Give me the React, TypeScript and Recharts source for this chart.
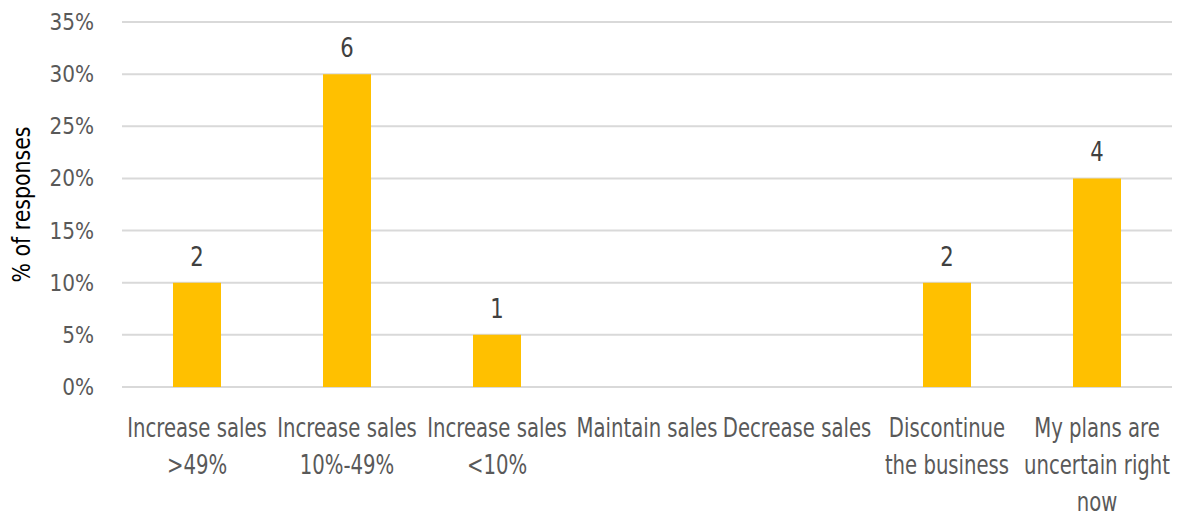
import React from "react";
import { BarChart, Bar, XAxis, YAxis, CartesianGrid, LabelList } from "recharts";

const categories = [
  "Increase sales >49%",
  "Increase sales 10%-49%",
  "Increase sales <10%",
  "Maintain sales",
  "Decrease sales",
  "Discontinue the business",
  "My plans are uncertain right now",
];
const categoryLines: string[][] = [
  ["Increase sales", ">49%"],
  ["Increase sales", "10%-49%"],
  ["Increase sales", "<10%"],
  ["Maintain sales"],
  ["Decrease sales"],
  ["Discontinue", "the business"],
  ["My plans are", "uncertain right", "now"],
];
const percentValues = [10, 30, 5, 0, 0, 10, 20];
const responseCounts: (number | null)[] = [2, 6, 1, null, null, 2, 4];
const yTicks = [0, 5, 10, 15, 20, 25, 30, 35];

const data = categories.map((c, i) => ({
  name: c,
  value: percentValues[i],
  count: responseCounts[i],
}));

const FONT = "'DejaVu Sans Condensed', 'Liberation Sans Narrow', 'Arial Narrow', sans-serif";

const XTick = (props: any) => {
  const { x, index } = props;
  const lines = categoryLines[index] || [];
  const base = 387 + 50;
  return (
    <g>
      {lines.map((l, i) => (
        <text
          key={i}
          transform={`translate(${x},${base + i * 37}) scale(0.81,1)`}
          x={0}
          y={0}
          textAnchor="middle"
          fill="#595959"
          fontSize={27}
          fontFamily={FONT}
        >
          {l}
        </text>
      ))}
    </g>
  );
};

const YTick = (props: any) => {
  const { x, y, payload } = props;
  return (
    <text
      transform={`translate(${x},${y}) scale(0.97,1)`}
      x={0}
      y={0}
      dy={8}
      textAnchor="end"
      fill="#595959"
      fontSize={23}
      fontFamily={FONT}
    >
      {`${payload.value}%`}
    </text>
  );
};

const YLabel = (props: any) => {
  const vb = props.viewBox || {};
  const cy = (vb.y || 0) + (vb.height || 0) / 2;
  return (
    <text
      transform={`translate(30,${cy}) rotate(-90) scale(0.95,1)`}
      x={0}
      y={0}
      textAnchor="middle"
      fill="#000"
      fontSize={24}
      fontFamily={FONT}
    >
      % of responses
    </text>
  );
};

const CountLabel = (props: any) => {
  const { x, y, width, value } = props;
  if (value === null || value === undefined) return null;
  return (
    <text
      transform={`translate(${x + width / 2},${y - 17}) scale(0.87,1)`}
      x={0}
      y={0}
      textAnchor="middle"
      fill="#404040"
      fontSize={27}
      fontFamily={FONT}
    >
      {value}
    </text>
  );
};

export default function App() {
  return (
    <div style={{ position: "absolute", left: 0, top: 0, width: 1177, height: 517, background: "#fff" }}>
      <BarChart
        width={1177}
        height={517}
        data={data}
        margin={{ top: 22, right: 5, bottom: 0, left: 0 }}
        barCategoryGap="34%"
      >
        <CartesianGrid vertical={false} stroke="#d9d9d9" strokeWidth={2} />
        <XAxis
          dataKey="name"
          interval={0}
          height={130}
          axisLine={false}
          tickLine={false}
          tick={<XTick />}
        />
        <YAxis
          width={122}
          domain={[0, 35]}
          ticks={yTicks}
          axisLine={false}
          tickLine={false}
          tickSize={0}
          tickMargin={28}
          tick={<YTick />}
          label={<YLabel />}
        />
        <Bar dataKey="value" fill="#FFC000" isAnimationActive={false}>
          <LabelList dataKey="count" content={<CountLabel />} />
        </Bar>
      </BarChart>
    </div>
  );
}
